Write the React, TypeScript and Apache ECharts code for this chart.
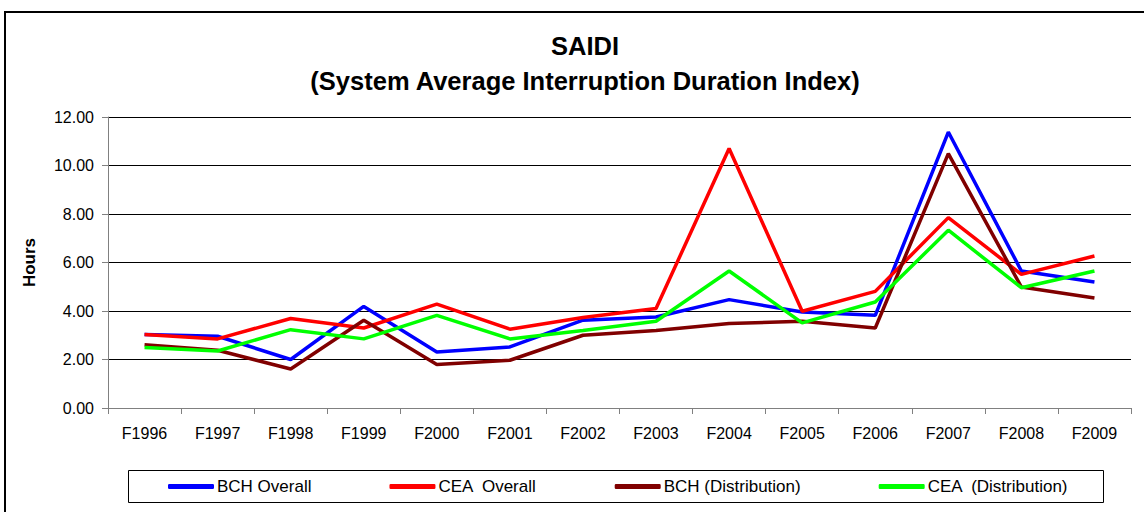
import React, { useEffect, useRef } from "react";
import * as echarts from "echarts";

const categories = ["F1996", "F1997", "F1998", "F1999", "F2000", "F2001", "F2002", "F2003", "F2004", "F2005", "F2006", "F2007", "F2008", "F2009"];
const bchOverall = [3.03, 2.96, 2.0, 4.19, 2.31, 2.52, 3.62, 3.75, 4.47, 3.96, 3.82, 11.38, 5.65, 5.2];
const ceaOverall = [3.03, 2.85, 3.69, 3.3, 4.28, 3.25, 3.73, 4.1, 10.7, 3.99, 4.81, 7.85, 5.51, 6.27];
const bchDist = [2.61, 2.38, 1.61, 3.62, 1.79, 1.97, 3.0, 3.2, 3.48, 3.58, 3.3, 10.49, 4.99, 4.54];
const ceaDist = [2.49, 2.35, 3.23, 2.85, 3.82, 2.85, 3.2, 3.58, 5.65, 3.51, 4.37, 7.33, 4.96, 5.65];
const seriesNames = ["BCH Overall", "CEA  Overall", "BCH (Distribution)", "CEA  (Distribution)"];
const seriesColors = ["#0000FF", "#FF0000", "#800000", "#00FF00"];

const FONT = "Arial, 'Liberation Sans', sans-serif";

export default function App() {
  const ref = useRef<HTMLDivElement>(null);
  useEffect(() => {
    document.body.style.margin = "0";
    const chart = echarts.init(ref.current!, null, { renderer: "svg" });
    const dataSets = [bchOverall, ceaOverall, bchDist, ceaDist];
    chart.setOption({
      animation: false,
      backgroundColor: "#ffffff",
      textStyle: { fontFamily: FONT },
      title: {
        text: "SAIDI\n(System Average Interruption Duration Index)",
        left: 580,
        textAlign: "center",
        top: 23,
        textStyle: { fontFamily: FONT, fontWeight: "bold", fontSize: 25.5, color: "#000", lineHeight: 35 },
      },
      graphic: [
        {
          type: "rect",
          shape: { x: 5, y: 12, width: 1160, height: 520 },
          style: { fill: "none", stroke: "#000", lineWidth: 2 },
          silent: true,
        },
        {
          type: "rect",
          shape: { x: 128.5, y: 470.5, width: 975, height: 32 },
          style: { fill: "none", stroke: "#000", lineWidth: 1 },
          silent: true,
        },
      ],
      legend: {
        left: 163,
        top: 473,
        itemWidth: 46,
        itemHeight: 5,
        itemGap: 78,
        icon: "roundRect",
        textStyle: { fontFamily: FONT, fontSize: 17, color: "#000", padding: [0, 0, 0, -2] },
        data: seriesNames,
      },
      grid: { left: 108, right: 13, top: 117, bottom: 104, containLabel: false },
      xAxis: {
        type: "category",
        data: categories,
        boundaryGap: true,
        axisLine: { lineStyle: { color: "#808080", width: 1 } },
        axisTick: { show: true, length: 6, lineStyle: { color: "#808080" }, alignWithLabel: false },
        axisLabel: { fontFamily: FONT, fontSize: 16, color: "#000", margin: 17 },
        splitLine: { show: false },
      },
      yAxis: {
        type: "value",
        min: 0,
        max: 12,
        interval: 2,
        name: "Hours",
        nameLocation: "middle",
        nameGap: 70,
        nameTextStyle: { fontFamily: FONT, fontWeight: "bold", fontSize: 17, color: "#000" },
        axisLine: { show: true, lineStyle: { color: "#808080", width: 1 } },
        axisTick: { show: true, length: 6, lineStyle: { color: "#808080" } },
        axisLabel: { fontFamily: FONT, fontSize: 16, color: "#000", margin: 14, formatter: (v: number) => v.toFixed(2) },
        splitLine: { show: true, lineStyle: { color: "#000", width: 1 } },
      },
      series: dataSets.map((d, i) => ({
        name: seriesNames[i],
        type: "line",
        data: d,
        showSymbol: false,
        symbol: "none",
        color: seriesColors[i],
        lineStyle: { color: seriesColors[i], width: 3.5 },
        z: 2 + i,
      })),
    });
    return () => chart.dispose();
  }, []);
  return <div ref={ref} style={{ width: 1144, height: 512 }} />;
}
